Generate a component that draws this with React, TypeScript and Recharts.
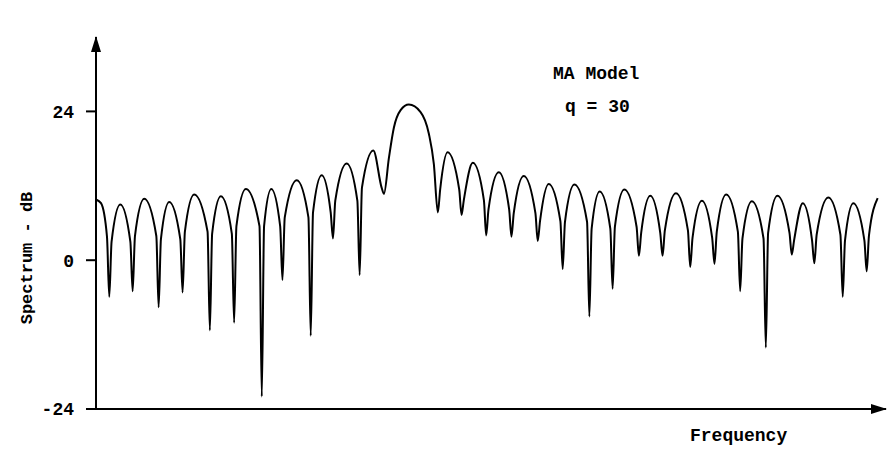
import { LineChart, Line, XAxis, YAxis } from "recharts";

// normalised frequency (0 = left axis), one row per lobe
const freq = [
    0, 0.00313, 0.00687, 0.00831,
    0.00975, 0.01519, 0.0215, 0.02294,
    0.02438, 0.03019, 0.03775, 0.03919,
    0.04063, 0.04581, 0.05275, 0.05419,
    0.05563, 0.06144, 0.06981, 0.07125,
    0.07269, 0.07813, 0.085, 0.08644,
    0.08788, 0.09375, 0.10231, 0.10375,
    0.10519, 0.10969, 0.11525, 0.11669,
    0.11813, 0.12563, 0.13294, 0.13438,
    0.13582, 0.14125, 0.14687, 0.14831,
    0.14975, 0.15688, 0.16356, 0.165,
    0.16644, 0.17356, 0.17875, 0.18019,
    0.18331, 0.18644, 0.19063, 0.19581, 0.20313, 0.20831, 0.21144, 0.21394,
    0.21538, 0.22, 0.22731, 0.22875,
    0.23019, 0.23581, 0.24275, 0.24419,
    0.24563, 0.25206, 0.25856, 0.26,
    0.26144, 0.26769, 0.275, 0.27644,
    0.27788, 0.28331, 0.29062, 0.29206,
    0.2935, 0.29938, 0.30731, 0.30875,
    0.31019, 0.31519, 0.32187, 0.32331,
    0.32475, 0.33063, 0.33831, 0.33975,
    0.34119, 0.34688, 0.35312, 0.35456,
    0.356, 0.36294, 0.37044, 0.37188,
    0.37332, 0.37919, 0.38562, 0.38706,
    0.3885, 0.39438, 0.40169, 0.40313,
    0.40457, 0.41044, 0.41775, 0.41919,
    0.42063, 0.42644, 0.434, 0.43544,
    0.43688, 0.44231, 0.44812, 0.44956,
    0.451, 0.45831, 0.46587, 0.46731,
    0.46875, 0.47394, 0.48087, 0.48231,
    0.48375, 0.48919,
];

// spectrum in dB at those frequencies (shoulder, peak, shoulder, null per lobe)
const spectrumDb = [
    9.8, 9.2, 3.8, -5.9,
    3.0, 9.0, 3.0, -5.0,
    3.9, 9.9, 3.9, -7.6,
    3.4, 9.4, 3.4, -5.2,
    4.6, 10.6, 4.6, -11.3,
    4.3, 10.3, 4.3, -10.1,
    5.5, 11.5, 5.5, -22.0,
    5.5, 11.5, 5.5, -3.2,
    6.9, 12.9, 6.9, -12.2,
    7.7, 13.7, 7.7, 3.5,
    9.6, 15.6, 9.6, -2.4,
    11.7, 17.7, 11.7, 10.7,
    16.5, 21.4, 24.2, 25.1, 23.9, 20.4, 15.5, 7.7,
    11.4, 17.4, 11.4, 7.3,
    9.7, 15.7, 9.7, 4.0,
    8.2, 14.2, 8.2, 3.8,
    7.6, 13.6, 7.6, 3.1,
    6.3, 12.3, 6.3, -1.4,
    6.2, 12.2, 6.2, -9.1,
    5.1, 11.1, 5.1, -4.6,
    5.4, 11.4, 5.4, 0.7,
    4.4, 10.4, 4.4, 0.7,
    4.8, 10.8, 4.8, -1.1,
    3.6, 9.6, 3.6, -0.6,
    4.6, 10.6, 4.6, -5.0,
    3.5, 9.5, 3.5, -14.1,
    4.4, 10.4, 4.4, 0.9,
    3.2, 9.2, 3.2, -0.5,
    4.1, 10.1, 4.1, -5.9,
    3.2, 9.2, 3.2, -1.8,
    4.0, 10.0,
];

const yTicks = [-24, 0, 24];

const data = freq.map((f, i) => ({ freq: f, db: spectrumDb[i] }));

const FONT = "'Liberation Mono', 'DejaVu Sans Mono', monospace";

export default function App() {
    return (
        <div style={{ position: "absolute", left: 0, top: 0, width: 888, height: 449, background: "#fff" }}>

            <svg width={0} height={0} style={{ position: "absolute" }}>
                <defs>
                    <marker
                        id="arrowHead"
                        markerUnits="userSpaceOnUse"
                        markerWidth={16}
                        markerHeight={10}
                        viewBox="0 0 16 10"
                        refX={15}
                        refY={5}
                        orient="auto-start-reverse"
                    >
                        <path d="M0,0 L16,5 L0,10 z" fill="#000" />
                    </marker>
                </defs>
            </svg>

            <LineChart
                width={888}
                height={449}
                data={data}
                margin={{ top: 37, right: 2, bottom: 0, left: 0 }}
            >
                <XAxis
                    type="number"
                    dataKey="freq"
                    domain={[0, 0.4944]}
                    height={40}
                    tick={false}
                    tickLine={false}
                    axisLine={{ stroke: "#000", strokeWidth: 2, markerEnd: "url(#arrowHead)" }}
                />
                <YAxis
                    type="number"
                    domain={[-24, 36]}
                    ticks={yTicks}
                    width={96}
                    tickSize={10}
                    tickMargin={12}
                    tickLine={{ stroke: "#000", strokeWidth: 2 }}
                    axisLine={{ stroke: "#000", strokeWidth: 2, markerStart: "url(#arrowHead)" }}
                    tick={{ fill: "#000", fontSize: 18, fontWeight: 700, fontFamily: FONT }}
                    allowDataOverflow
                />
                <Line
                    type="monotone"
                    dataKey="db"
                    stroke="#000"
                    strokeWidth={2}
                    dot={false}
                    isAnimationActive={false}
                />
            </LineChart>

            <svg
                width={888}
                height={449}
                style={{ position: "absolute", left: 0, top: 0, pointerEvents: "none" }}
                fontFamily={FONT}
                fontWeight={700}
                fill="#000"
            >
                <text x={553} y={79} fontSize={18}>MA Model</text>
                <text x={565} y={112} fontSize={18}>q = 30</text>
                <text x={690} y={441} fontSize={18}>Frequency</text>
                <text x={32} y={258} fontSize={17} textAnchor="middle" transform="rotate(-90 32 258)">
                    Spectrum - dB
                </text>
            </svg>

        </div>
    );
}
